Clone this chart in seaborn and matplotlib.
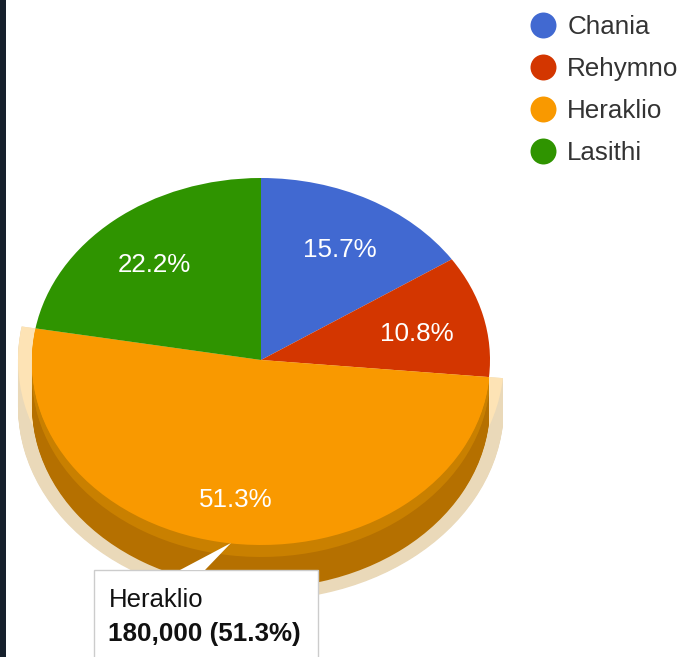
import matplotlib
matplotlib.use("Agg")
import matplotlib.pyplot as plt
from matplotlib.lines import Line2D
from matplotlib.patches import Rectangle, Polygon
import seaborn as sns

regions = ["Chania", "Rehymno", "Heraklio", "Lasithi"]
values = [55000, 38000, 180000, 78000]
colors = ["#4169d1", "#d33600", "#f99900", "#2f9400"]
selected = 2
tooltip_title = "Heraklio"
tooltip_value = "180,000 (51.3%)"

W, H = 683, 657
CX, CY, RX, RY = 261, 360, 229, 182
FS = 18.7

sns.set_theme(style="white")
plt.rcParams["font.family"] = ["Liberation Sans", "DejaVu Sans"]
palette = sns.color_palette(colors)

fig = plt.figure(figsize=(W / 100, H / 100), dpi=100, facecolor="white")
ax = fig.add_axes([0, 0, 1, 1])
ax.set_facecolor("none")


def layer(color, radius=1.0, drop=0):
    cols = [color if i == selected else "none" for i in range(len(values))]
    return ax.pie(values, colors=cols, startangle=90, counterclock=False, radius=radius,
                  center=(0, -drop / RY), wedgeprops={"linewidth": 0})


HALO = 243 / 229
for d in range(47, -1, -1):
    layer("#ead9b9", radius=HALO, drop=d)
layer("#fde3b5", radius=HALO, drop=0)
for d in range(46, 15, -1):
    layer("#b57000", drop=d)
for d in range(15, 3, -1):
    layer("#c98000", drop=d)
for d in range(3, 0, -1):
    layer(palette[selected], drop=d)

res = ax.pie(values, colors=palette, startangle=90, counterclock=False,
             autopct="%1.1f%%", pctdistance=0.7,
             wedgeprops={"linewidth": 0},
             textprops={"color": "white", "fontsize": FS})
label_nudge_px = [(3, 2), (0, 5), (-4, 14), (-4, 3)]
for t, (dx, dy) in zip(res[2], label_nudge_px):
    x, y = t.get_position()
    t.set_position((x + dx / RX, y - dy / RY))

ax.set_aspect("auto")
ax.set_xlim(-CX / RX, (W - CX) / RX)
ax.set_ylim((CY - H) / RY, CY / RY)
ax.axis("off")

# overlay in pixel coordinates: window strip, tooltip, legend
ov = fig.add_axes([0, 0, 1, 1], facecolor="none")
ov.set_xlim(0, W)
ov.set_ylim(H, 0)
ov.axis("off")
ov.add_patch(Rectangle((0, 0), 6, H, facecolor="#16202c", edgecolor="none"))
ov.add_patch(Rectangle((93.5, 569.5), 224, 100, facecolor="white", edgecolor="#cccccc", linewidth=1, clip_on=True))
ov.add_patch(Polygon([(231, 543), (180, 570), (205, 570)], closed=True, facecolor="white", edgecolor="none"))
ov.text(108.5, 600, tooltip_title, fontsize=FS * 0.99, color="#111111", va="center", ha="left")
ov.text(108.5, 634, tooltip_value, fontsize=FS, color="#111111", va="center", ha="left", fontweight="bold")

handles = [Line2D([], [], linestyle="none", marker="o", markersize=18.7, markerfacecolor=c,
                  markeredgewidth=0) for c in palette]
leg = ov.legend(handles, regions, loc="upper left", bbox_to_anchor=(530 / W, 1 - 15 / H),
                bbox_transform=fig.transFigure, frameon=False, fontsize=FS, borderpad=0, borderaxespad=0,
                handlelength=1.0, handletextpad=0.435, labelspacing=0.69, labelcolor="#333333")

fig.savefig("out.png", dpi=100)
